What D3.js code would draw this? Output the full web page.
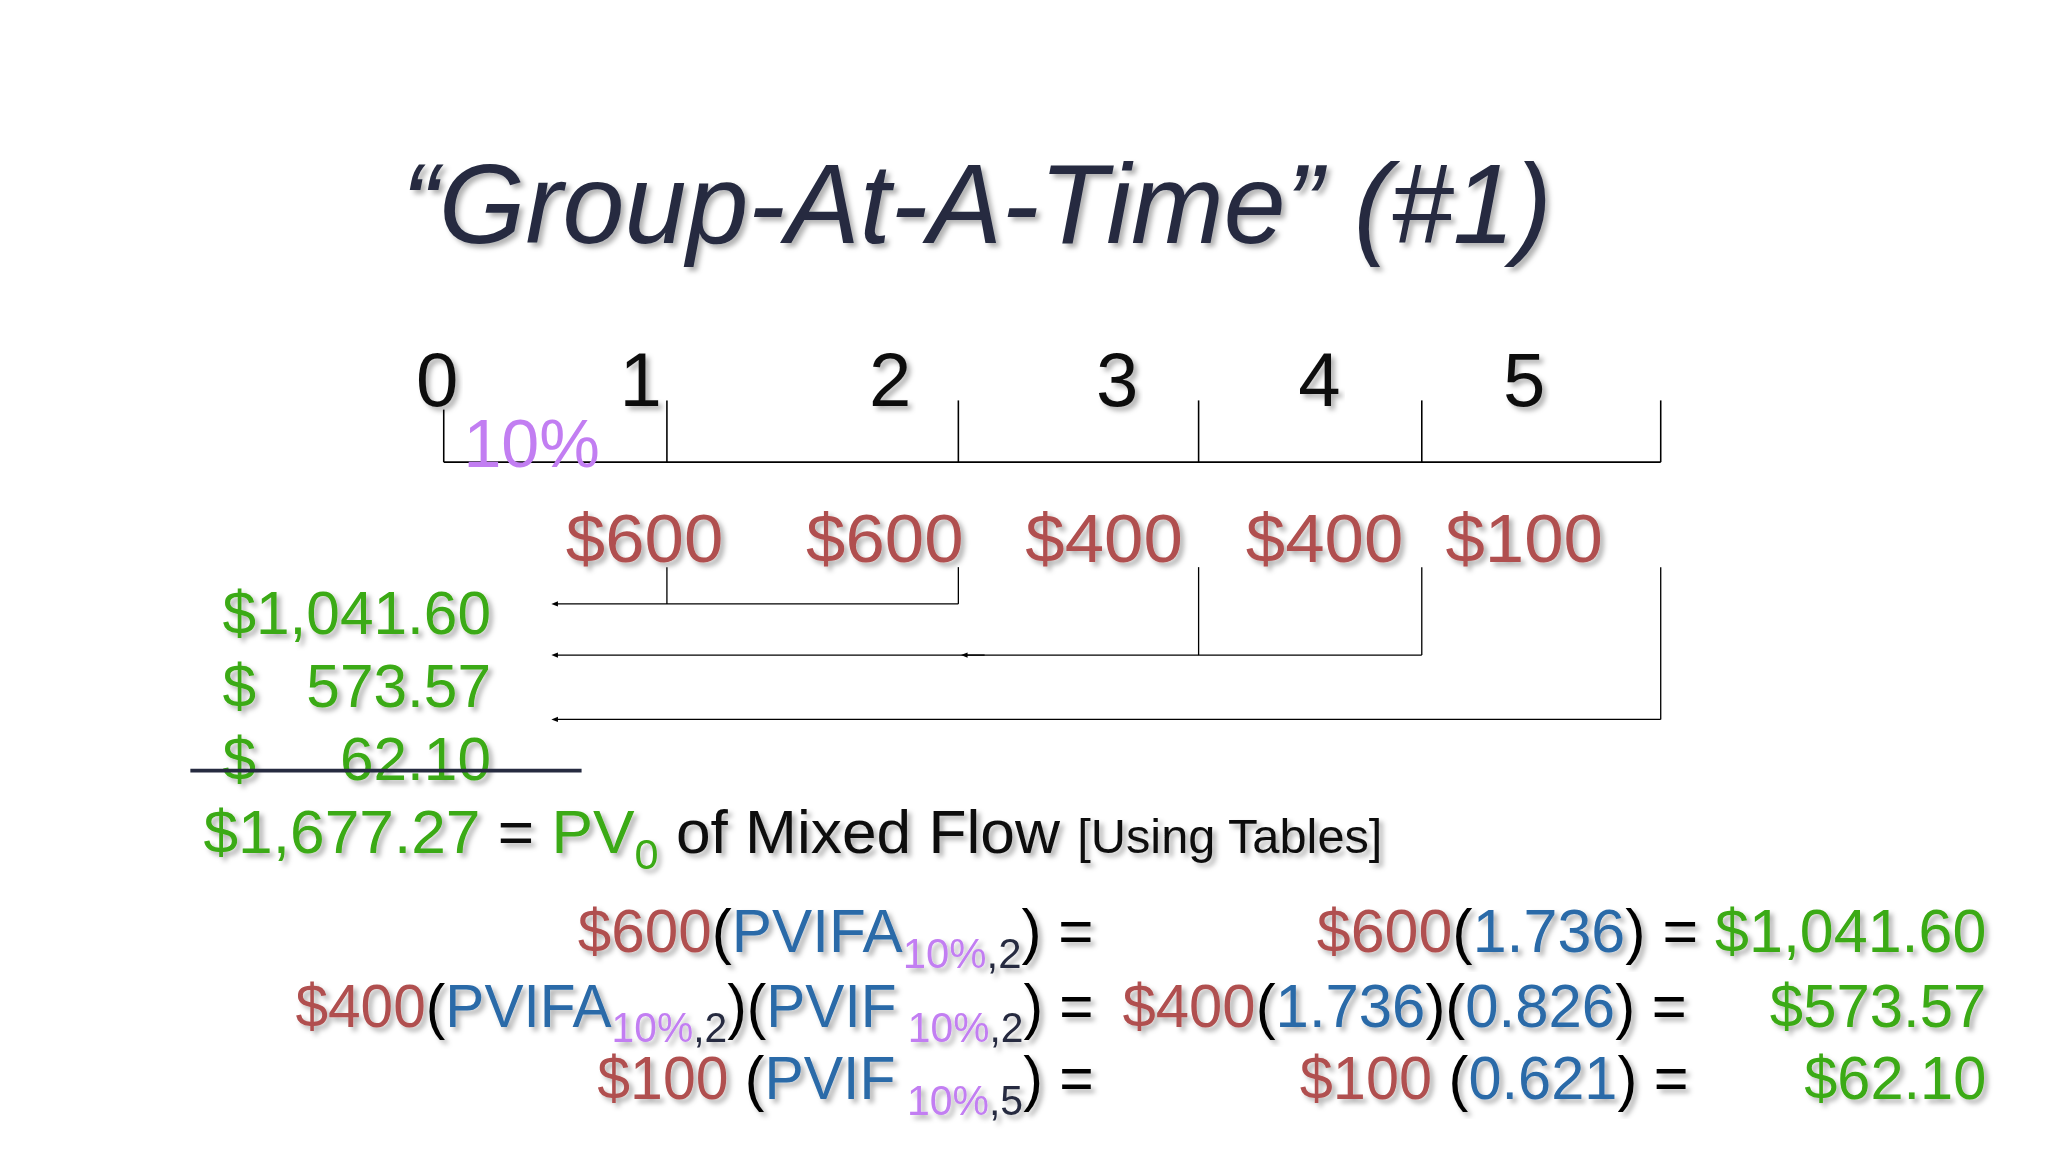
<!DOCTYPE html>
<html><head><meta charset="utf-8">
<script src="https://cdn.jsdelivr.net/npm/d3@7"></script>
<style>
body{margin:0;background:#fff}
svg{display:block;font-family:"Liberation Sans",Arial,sans-serif}
</style></head>
<body><svg id="chart" width="2048" height="1152" viewBox="0 0 1560 877.5"></svg>
<script>
const periods = [0, 1, 2, 3, 4, 5];
const cashFlows = [600, 600, 400, 400, 100];
const rate = '10%';
const groups = [
  {from: 1, to: 2, pv: '$1,041.60'},
  {from: 3, to: 4, pv: '$   573.57'},
  {from: 5, to: 5, pv: '$     62.10'}
];
const total = '$1,677.27';

const RED = '#b0504f', BLUE = '#2a6aa8', GREEN = '#3aaa12', PURPLE = '#c27ef2', NAVY = '#262b40';

const svg = d3.select('#chart');
const x = d3.scaleLinear().domain(periods).range([338, 508, 730, 913, 1083, 1265]);
const labelX = d3.scaleLinear().domain(periods).range([333, 488, 678, 851, 1005, 1161]);

// title with soft shadow
const defs = svg.append('defs');
const f = defs.append('filter').attr('id', 'sh');
f.append('feDropShadow').attr('dx', 3).attr('dy', 3).attr('stdDeviation', 2).attr('flood-color', '#000').attr('flood-opacity', 0.3);
defs.append('marker').attr('id', 'arr').attr('viewBox', '0 0 10 10').attr('refX', 2).attr('refY', 5)
  .attr('markerUnits', 'userSpaceOnUse').attr('markerWidth', 7).attr('markerHeight', 5).attr('orient', 'auto')
  .append('path').attr('d', 'M10,5L0,1L0,9Z').attr('fill', '#000');

svg.append('text').attr('x', 744).attr('y', 185).attr('text-anchor', 'middle')
  .attr('font-size', 86).attr('font-style', 'italic').attr('fill', NAVY).attr('filter', 'url(#sh)')
  .attr('textLength', 876).attr('lengthAdjust', 'spacingAndGlyphs')
  .text('\u201cGroup-At-A-Time\u201d (#1)');

// timeline
svg.append('line').attr('x1', x(0)).attr('x2', x(5)).attr('y1', 352).attr('y2', 352).attr('stroke', '#000').attr('stroke-width', 1.5);
svg.selectAll('.tick').data(periods).join('line')
  .attr('x1', d => x(d)).attr('x2', d => x(d)).attr('y1', d => d === 0 ? 312 : 305).attr('y2', 352)
  .attr('stroke', '#000').attr('stroke-width', 1.2);
svg.selectAll('.plab').data(periods).join('text')
  .attr('x', d => labelX(d)).attr('y', 309).attr('text-anchor', 'middle').attr('font-size', 58)
  .attr('fill', '#111').attr('filter', 'url(#sh)').text(d => d);
svg.append('text').attr('x', 353).attr('y', 356).attr('font-size', 52).attr('fill', PURPLE)
  .attr('textLength', 104).attr('lengthAdjust', 'spacingAndGlyphs').text(rate);

// cash flows
const cfX = [491, 674, 841, 1009, 1161];
svg.selectAll('.cf').data(cashFlows).join('text')
  .attr('x', (d, i) => cfX[i]).attr('y', 428).attr('text-anchor', 'middle').attr('font-size', 52)
  .attr('fill', RED).attr('filter', 'url(#sh)').attr('textLength', 120).attr('lengthAdjust', 'spacingAndGlyphs')
  .text(d => '$' + d);

// grouping brackets
const rowY = [460, 499, 548];
groups.forEach((g, i) => {
  const y = rowY[i];
  d3.range(g.from, g.to + 1).forEach(p => {
    svg.append('line').attr('x1', x(p)).attr('x2', x(p)).attr('y1', 432).attr('y2', y).attr('stroke', '#000').attr('stroke-width', 1);
  });
  svg.append('line').attr('x1', x(g.to)).attr('x2', 424).attr('y1', y).attr('y2', y)
    .attr('stroke', '#000').attr('stroke-width', 1).attr('marker-end', 'url(#arr)');
  if (i === 1) svg.append('line').attr('x1', x(2) + 20).attr('x2', x(2) + 6).attr('y1', y).attr('y2', y)
    .attr('stroke', '#000').attr('stroke-width', 1).attr('marker-end', 'url(#arr)');
  svg.append('text').attr('x', 374).attr('y', 483 + i * 55.5).attr('text-anchor', 'end').attr('font-size', 46)
    .attr('fill', GREEN).attr('filter', 'url(#sh)').style('white-space', 'pre').text(g.pv);
});
svg.append('line').attr('x1', 145).attr('x2', 443).attr('y1', 587).attr('y2', 587).attr('stroke', NAVY).attr('stroke-width', 3);

// total line
const t = svg.append('text').attr('x', 155).attr('y', 650).attr('font-size', 46).attr('filter', 'url(#sh)')
  .attr('textLength', 898).attr('lengthAdjust', 'spacingAndGlyphs');
t.append('tspan').attr('fill', GREEN).text(total);
t.append('tspan').attr('fill', '#111').text(' = ');
t.append('tspan').attr('fill', GREEN).text('PV');
t.append('tspan').attr('fill', GREEN).attr('font-size', 32).attr('dy', 12).text('0');
t.append('tspan').attr('fill', '#111').attr('dy', -12).text(' of Mixed Flow ');
t.append('tspan').attr('fill', '#111').attr('font-size', 36).text('[Using Tables]');

// equations: [text, colour, subscript?]
const left = [
  [['$600', RED], ['(', '#000'], ['PVIFA', BLUE], ['10%', PURPLE, 1], [',2', NAVY, 1], [') =', '#000']],
  [['$400', RED], ['(', '#000'], ['PVIFA', BLUE], ['10%', PURPLE, 1], [',2', NAVY, 1], [')(', '#000'], ['PVIF', BLUE], [' 10%', PURPLE, 1], [',2', NAVY, 1], [') =', '#000']],
  [['$100', RED], [' (', '#000'], ['PVIF', BLUE], [' 10%', PURPLE, 1], [',5', NAVY, 1], [') =', '#000']]
];
const right = [
  [['$600', RED], ['(', '#000'], ['1.736', BLUE], [') = ', '#000'], ['$1,041.60', GREEN]],
  [['$400', RED], ['(', '#000'], ['1.736', BLUE], [')(', '#000'], ['0.826', BLUE], [') =     ', '#000'], ['$573.57', GREEN]],
  [['$100', RED], [' (', '#000'], ['0.621', BLUE], [') =       ', '#000'], ['$62.10', GREEN]]
];
const leftStart = [440, 225, 455];
const rightStart = [1003, 855, 990];
function eqRow(parts, x0, xEnd, y) {
  const tx = svg.append('text').attr('x', x0).attr('y', y).attr('font-size', 46)
    .attr('textLength', xEnd - x0).attr('lengthAdjust', 'spacingAndGlyphs')
    .attr('filter', 'url(#sh)').style('white-space', 'pre');
  let sub = false;
  parts.forEach(([s, c, isSub]) => {
    const sp = tx.append('tspan').attr('fill', c).text(s);
    if (isSub && !sub) { sp.attr('dy', 12); sub = true; }
    else if (!isSub && sub) { sp.attr('dy', -12); sub = false; }
    if (isSub) sp.attr('font-size', 32);
  });
}
const eqY = [725, 782, 837];
left.forEach((p, i) => eqRow(p, leftStart[i], 833, eqY[i]));
right.forEach((p, i) => eqRow(p, rightStart[i], 1513, eqY[i]));
</script></body></html>
